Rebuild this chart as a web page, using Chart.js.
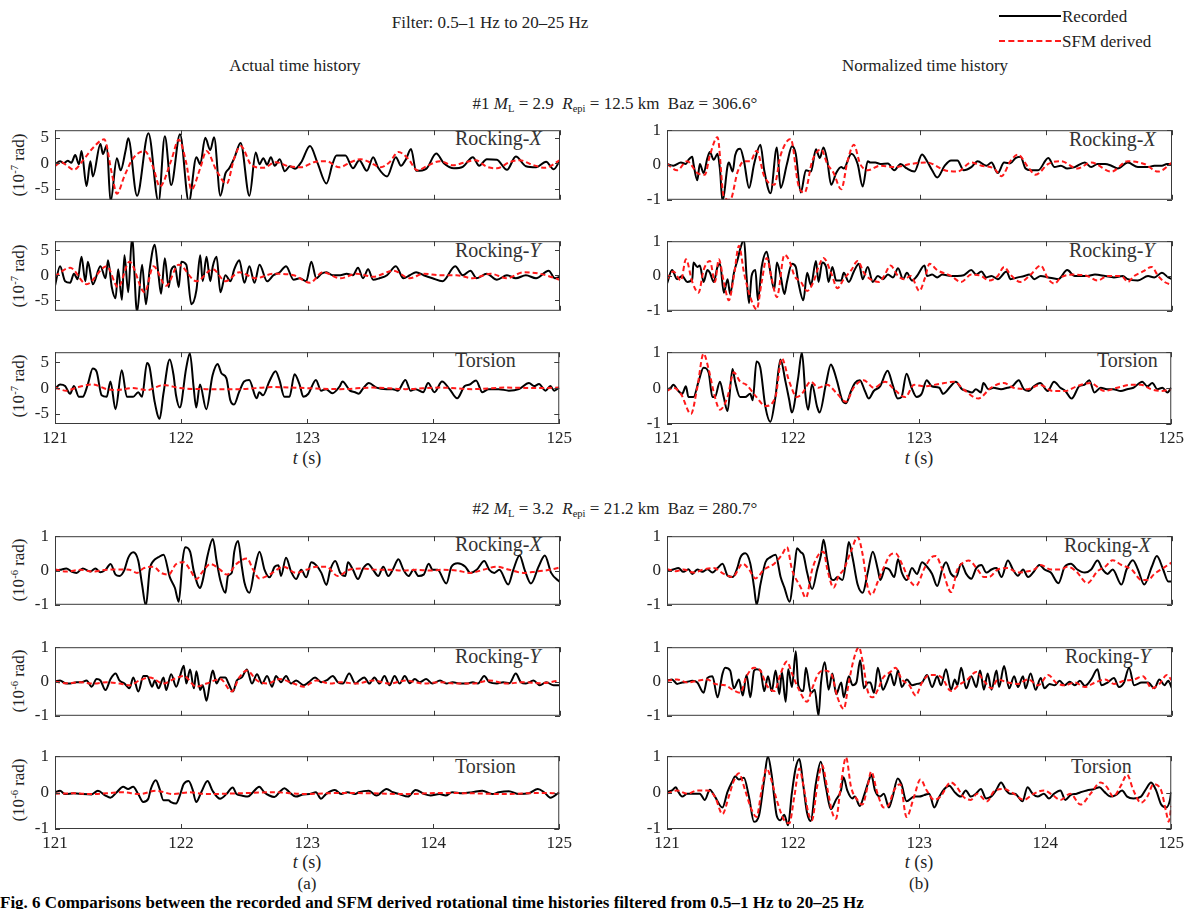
<!DOCTYPE html>
<html>
<head>
<meta charset="utf-8">
<script src="https://cdn.jsdelivr.net/npm/chart.js@4.4.0/dist/chart.umd.min.js"></script>
<style>
  body { margin: 0; width: 1200px; height: 909px; background: #fff; position: relative; overflow: hidden;
         font-family: "Liberation Serif", "Times New Roman", serif; color: #222; }
  canvas { position: absolute; }
  .t { position: absolute; white-space: nowrap; line-height: 1; transform: translate(-50%, -50%); font-size: 17px; }
  .lab { position: absolute; white-space: nowrap; line-height: 1; transform: translateY(-50%); font-size: 20px; color: #333; }
  .yt { position: absolute; white-space: nowrap; line-height: 1; font-size: 17px; transform: translate(-50%, -50%) rotate(-90deg); }
  sup { font-size: 0.62em; vertical-align: 0.55em; }
  sub { font-size: 0.62em; vertical-align: -0.25em; }
  .leg { position: absolute; width: 62px; height: 0; }
</style>
</head>
<body>

<div class="t" style="left:490px; top:22px;">Filter: 0.5–1 Hz to 20–25 Hz</div>
<div class="leg" style="left:999px; top:15px; border-top:2px solid #000;"></div>
<div class="lab" style="left:1062px; top:16px; font-size:17px; color:#222;">Recorded</div>
<div class="leg" style="left:999px; top:40px; border-top:2px dashed #ff1a1a;"></div>
<div class="lab" style="left:1062px; top:41px; font-size:17px; color:#222;">SFM derived</div>

<div class="t" style="left:295px; top:65px;">Actual time history</div>
<div class="t" style="left:925px; top:65px;">Normalized time history</div>
<div class="t" style="left:615px; top:105px;">#1 <i>M</i><sub>L</sub> = 2.9&nbsp; <i>R</i><sub>epi</sub> = 12.5 km&nbsp; Baz = 306.6°</div>
<div class="t" style="left:615px; top:510px;">#2 <i>M</i><sub>L</sub> = 3.2&nbsp; <i>R</i><sub>epi</sub> = 21.2 km&nbsp; Baz = 280.7°</div>

<div class="yt" style="left:18px; top:165px;">(10<sup>-7</sup> rad)</div>
<div class="yt" style="left:18px; top:276px;">(10<sup>-7</sup> rad)</div>
<div class="yt" style="left:18px; top:386px;">(10<sup>-7</sup> rad)</div>
<div class="yt" style="left:18px; top:570px;">(10<sup>-6</sup> rad)</div>
<div class="yt" style="left:18px; top:681px;">(10<sup>-6</sup> rad)</div>
<div class="yt" style="left:18px; top:790px;">(10<sup>-6</sup> rad)</div>

<div class="lab" style="left:455px; top:138px;">Rocking-<i>X</i></div>
<div class="lab" style="left:1069px; top:139px;">Rocking-<i>X</i></div>
<div class="lab" style="left:455px; top:250px;">Rocking-<i>Y</i></div>
<div class="lab" style="left:1069px; top:250px;">Rocking-<i>Y</i></div>
<div class="lab" style="left:455px; top:360px;">Torsion</div>
<div class="lab" style="left:1097px; top:360px;">Torsion</div>
<div class="lab" style="left:455px; top:544px;">Rocking-<i>X</i></div>
<div class="lab" style="left:1064px; top:545px;">Rocking-<i>X</i></div>
<div class="lab" style="left:455px; top:656px;">Rocking-<i>Y</i></div>
<div class="lab" style="left:1065px; top:656px;">Rocking-<i>Y</i></div>
<div class="lab" style="left:455px; top:766px;">Torsion</div>
<div class="lab" style="left:1071px; top:766px;">Torsion</div>

<div class="t" style="left:307px; top:458px; font-size:18px;"><i>t</i> (s)</div>
<div class="t" style="left:919px; top:458px; font-size:18px;"><i>t</i> (s)</div>
<div class="t" style="left:307px; top:862px; font-size:18px;"><i>t</i> (s)</div>
<div class="t" style="left:919px; top:862px; font-size:18px;"><i>t</i> (s)</div>
<div class="t" style="left:307px; top:883px;">(a)</div>
<div class="t" style="left:919px; top:883px;">(b)</div>
<div class="lab" style="left:0px; top:902px; font-size:17px; font-weight:bold; color:#000;">Fig. 6 Comparisons between the recorded and SFM derived rotational time histories filtered from 0.5–1 Hz to 20–25 Hz</div>

<script>
// time axis ticks and y ticks
const timeTicks = [121, 122, 123, 124, 125];
const ticksE1 = [-5, 0, 5];
const ticksUnit = [-1, 0, 1];

// ---- event #1, actual (10^-7 rad) ----
const e1RxRec = [[121.00,-0.3],[121.04,0.4],[121.07,0.0],[121.10,0.5],[121.13,0.1],[121.16,1.6],[121.19,-0.2],[121.21,2.4],[121.25,-4.5],[121.28,0.4],[121.30,-2.6],[121.36,3.8],[121.38,1.8],[121.41,3.5],[121.44,-7.6],[121.49,1.0],[121.52,-1.4],[121.56,2.6],[121.58,4.9],[121.65,-6.4],[121.74,5.9],[121.82,-7.6],[121.87,5.3],[121.92,-4.3],[121.99,5.7],[122.06,-7.6],[122.12,1.2],[122.15,-0.2],[122.19,5.0],[122.23,2.6],[122.26,5.1],[122.31,-6.4],[122.35,-2.0],[122.38,-1.0],[122.42,1.0],[122.47,4.0],[122.54,-6.4],[122.59,2.1],[122.62,-0.2],[122.65,1.0],[122.68,-0.3],[122.71,1.2],[122.74,-0.5],[122.78,0.8],[122.82,-1.6],[122.86,-0.6],[122.90,-1.1],[122.95,0.2],[123.02,3.4],[123.08,0.0],[123.15,-4.0],[123.20,0.0],[123.23,1.5],[123.30,1.5],[123.36,-1.0],[123.41,0.6],[123.47,-1.5],[123.52,1.2],[123.56,-0.9],[123.63,-2.6],[123.70,1.2],[123.74,-0.5],[123.78,0.8],[123.82,2.8],[123.86,-1.5],[123.94,-1.1],[124.02,1.9],[124.08,0.0],[124.16,-1.0],[124.23,-0.7],[124.31,1.2],[124.36,-0.5],[124.42,0.8],[124.50,0.7],[124.58,-1.3],[124.65,1.3],[124.73,-0.6],[124.81,-0.8],[124.89,0.3],[124.95,-1.2],[125.00,0.6]];
const e1RxSfm = [[121.00,-0.6],[121.05,0.2],[121.10,-0.6],[121.15,-1.3],[121.22,0.5],[121.30,3.0],[121.39,4.7],[121.45,-2.0],[121.49,-6.0],[121.55,-2.5],[121.62,1.0],[121.71,2.4],[121.78,-1.0],[121.83,-4.6],[121.92,0.5],[121.98,4.6],[122.04,0.0],[122.08,-5.2],[122.15,-1.0],[122.20,2.4],[122.28,-1.5],[122.36,-4.0],[122.42,1.0],[122.47,3.4],[122.56,-0.5],[122.65,-0.9],[122.75,0.2],[122.85,-0.6],[122.95,-0.8],[123.05,0.2],[123.15,0.4],[123.25,-0.8],[123.35,0.3],[123.42,0.8],[123.50,0.1],[123.58,-0.8],[123.65,0.2],[123.72,2.2],[123.80,0.8],[123.87,-1.4],[123.95,-0.5],[124.05,0.4],[124.15,-0.4],[124.25,0.2],[124.33,0.6],[124.42,-0.7],[124.50,-1.0],[124.60,0.2],[124.68,0.6],[124.78,-0.3],[124.88,-0.9],[125.00,0.6]];
const e1RyRec = [[121.00,-2.1],[121.04,1.8],[121.08,-1.2],[121.12,-1.5],[121.15,0.3],[121.18,-0.8],[121.21,3.7],[121.24,-1.2],[121.26,2.7],[121.30,-1.8],[121.36,1.8],[121.40,-0.6],[121.42,3.0],[121.45,-2.4],[121.48,-4.6],[121.50,1.2],[121.53,-4.9],[121.55,4.0],[121.58,-3.4],[121.61,7.6],[121.65,-7.4],[121.69,2.1],[121.72,-5.8],[121.75,1.2],[121.79,6.1],[121.82,0.0],[121.84,-3.7],[121.87,3.4],[121.90,-2.4],[121.92,1.0],[121.95,1.8],[121.98,-2.4],[122.00,2.7],[122.04,2.1],[122.08,-5.8],[122.12,-3.0],[122.15,4.0],[122.17,-1.2],[122.20,3.7],[122.23,-1.2],[122.25,1.8],[122.28,3.7],[122.31,-3.4],[122.35,0.0],[122.39,-1.2],[122.42,1.2],[122.46,3.0],[122.50,-1.5],[122.54,1.8],[122.58,-1.5],[122.62,2.1],[122.68,-1.2],[122.73,0.0],[122.78,0.6],[122.83,1.8],[122.89,-0.9],[122.94,-0.6],[122.99,-1.2],[123.03,2.7],[123.07,-0.6],[123.11,0.3],[123.15,0.6],[123.20,0.0],[123.26,0.0],[123.31,0.3],[123.36,0.0],[123.40,1.5],[123.44,-0.6],[123.48,1.2],[123.52,-0.9],[123.57,-0.6],[123.63,0.0],[123.70,1.8],[123.76,-0.6],[123.81,0.0],[123.86,0.6],[123.92,0.0],[123.99,-0.6],[124.07,-1.2],[124.17,1.8],[124.23,0.0],[124.29,0.9],[124.34,-0.6],[124.42,0.3],[124.50,-0.9],[124.58,0.0],[124.65,-0.6],[124.73,0.0],[124.81,-0.6],[124.91,0.9],[124.96,-0.6],[125.00,-0.3]];
const e1RySfm = [[121.00,-0.2],[121.12,1.5],[121.25,-1.8],[121.41,1.8],[121.50,-2.4],[121.59,2.7],[121.71,-3.4],[121.78,1.8],[121.88,-2.1],[121.98,2.1],[122.12,-1.2],[122.25,1.2],[122.35,-1.2],[122.46,0.6],[122.59,-0.6],[122.73,0.3],[122.89,0.0],[123.02,-1.5],[123.12,0.6],[123.26,-0.6],[123.39,0.3],[123.52,-0.3],[123.68,0.9],[123.81,-0.6],[123.92,0.3],[124.05,0.0],[124.18,0.0],[124.31,-0.6],[124.45,0.3],[124.58,-0.6],[124.71,0.6],[124.84,0.3],[125.00,-0.9]];
const e1TzRec = [[121.00,-0.2],[121.04,0.7],[121.08,0.4],[121.12,-1.1],[121.15,0.4],[121.19,-1.7],[121.22,-1.7],[121.26,0.7],[121.30,3.8],[121.33,3.2],[121.37,-1.4],[121.41,-1.7],[121.44,1.3],[121.48,-4.1],[121.53,3.5],[121.57,-1.7],[121.62,-1.7],[121.66,-0.8],[121.69,-1.7],[121.73,4.9],[121.75,4.1],[121.79,-2.6],[121.83,-6.0],[121.86,-1.1],[121.91,5.6],[121.94,2.6],[121.96,-1.4],[121.99,-3.8],[122.04,3.8],[122.07,6.8],[122.10,0.1],[122.12,-3.8],[122.15,0.7],[122.20,-4.1],[122.25,2.5],[122.29,4.7],[122.32,2.9],[122.36,1.9],[122.39,-2.3],[122.42,-3.2],[122.46,-0.8],[122.50,1.3],[122.54,1.6],[122.60,-2.0],[122.62,-0.8],[122.65,-1.4],[122.70,1.3],[122.75,3.3],[122.78,1.6],[122.82,-1.7],[122.86,-1.7],[122.90,2.7],[122.94,0.7],[122.97,-1.7],[123.01,-1.1],[123.07,1.6],[123.11,-0.5],[123.15,-0.2],[123.20,-1.0],[123.26,0.4],[123.28,1.3],[123.34,-0.5],[123.38,-0.8],[123.41,-1.1],[123.44,-0.2],[123.49,1.0],[123.55,0.1],[123.63,-0.2],[123.68,-0.2],[123.72,-0.5],[123.78,1.6],[123.82,-0.5],[123.86,-0.2],[123.92,-0.8],[123.96,1.0],[124.01,-0.8],[124.07,1.3],[124.13,-0.2],[124.19,-2.0],[124.25,0.4],[124.29,0.7],[124.34,1.5],[124.39,-0.8],[124.44,-0.2],[124.52,-0.2],[124.60,-0.5],[124.68,-0.2],[124.76,1.0],[124.80,0.4],[124.84,0.8],[124.89,-0.5],[124.93,0.4],[124.96,-0.5],[125.00,0.1]];
const e1TzSfm = [[121.00,0.1],[121.09,-0.5],[121.17,0.1],[121.30,0.7],[121.41,-0.2],[121.48,-0.4],[121.62,0.0],[121.73,-0.4],[121.86,0.6],[121.99,0.0],[122.20,-0.2],[122.46,-0.2],[122.73,0.2],[122.99,0.0],[123.26,-0.2],[123.52,0.1],[123.78,-0.2],[124.05,0.1],[124.31,-0.2],[124.58,0.1],[124.84,0.0],[125.00,0.1]];

// ---- event #1, normalized ----
const e1RxRecN = [[121.00,0.03],[121.05,-0.02],[121.11,0.07],[121.15,0.03],[121.17,0.15],[121.20,0.24],[121.21,0.03],[121.24,-0.44],[121.26,0.03],[121.29,-0.23],[121.32,0.2],[121.34,0.37],[121.37,0.15],[121.40,0.32],[121.42,-0.15],[121.44,-1.05],[121.48,-0.02],[121.49,0.07],[121.52,-0.19],[121.54,0.28],[121.58,0.47],[121.61,0.11],[121.65,-0.66],[121.69,0.03],[121.74,0.58],[121.77,-0.15],[121.82,-0.81],[121.87,0.5],[121.90,-0.66],[121.95,0.03],[121.99,0.54],[122.02,0.32],[122.06,-0.79],[122.10,-0.15],[122.14,-0.19],[122.18,0.45],[122.21,0.2],[122.24,0.5],[122.27,0.11],[122.30,-0.57],[122.34,-0.23],[122.38,-0.06],[122.40,-0.1],[122.46,0.32],[122.51,0.03],[122.55,-0.62],[122.59,0.11],[122.61,0.07],[122.65,0.07],[122.69,0.03],[122.75,0.04],[122.80,-0.15],[122.85,0.03],[122.90,-0.1],[122.96,-0.19],[123.02,0.3],[123.06,0.11],[123.10,-0.15],[123.14,-0.36],[123.20,-0.02],[123.25,0.13],[123.30,0.13],[123.35,-0.15],[123.41,-0.06],[123.46,0.11],[123.53,-0.02],[123.57,0.07],[123.62,-0.23],[123.67,0.07],[123.72,0.05],[123.76,0.2],[123.80,0.24],[123.84,-0.1],[123.88,-0.15],[123.94,-0.15],[124.02,0.2],[124.07,-0.06],[124.12,-0.02],[124.17,-0.1],[124.23,-0.06],[124.31,0.07],[124.36,-0.06],[124.41,0.03],[124.47,0.03],[124.52,-0.02],[124.57,-0.1],[124.65,0.07],[124.73,-0.06],[124.81,-0.06],[124.86,-0.02],[124.92,-0.02],[124.96,0.03],[125.00,0.03]];
const e1RxSfmN = [[121.00,0.03],[121.08,-0.15],[121.16,0.11],[121.24,-0.23],[121.30,-0.28],[121.34,0.28],[121.40,0.8],[121.45,-0.91],[121.50,-1.0],[121.56,-0.19],[121.61,0.11],[121.66,0.11],[121.71,0.41],[121.77,-0.32],[121.85,-0.57],[121.90,0.28],[121.98,0.75],[122.04,-0.57],[122.09,-0.79],[122.15,0.11],[122.22,0.45],[122.27,0.03],[122.32,-0.23],[122.38,-0.7],[122.43,0.11],[122.48,0.58],[122.53,0.03],[122.59,-0.15],[122.69,-0.02],[122.80,-0.06],[122.93,0.03],[123.06,0.07],[123.20,-0.15],[123.30,-0.19],[123.41,0.07],[123.49,-0.02],[123.59,-0.1],[123.65,-0.32],[123.72,0.11],[123.78,0.3],[123.86,-0.06],[123.92,-0.28],[124.02,0.03],[124.12,0.11],[124.25,-0.1],[124.36,0.07],[124.52,-0.19],[124.65,0.11],[124.78,0.03],[124.89,-0.19],[125.00,0.07]];
const e1RyRecN = [[121.00,-0.22],[121.04,0.17],[121.08,-0.09],[121.12,0.0],[121.16,-0.17],[121.20,-0.09],[121.21,0.39],[121.24,0.26],[121.26,0.3],[121.29,-0.17],[121.32,0.17],[121.34,0.09],[121.37,-0.17],[121.40,0.26],[121.42,0.35],[121.45,-0.48],[121.48,-0.09],[121.50,-0.52],[121.53,0.09],[121.56,0.48],[121.58,0.78],[121.61,1.05],[121.63,0.0],[121.65,-0.78],[121.67,0.0],[121.70,0.17],[121.72,-0.7],[121.75,0.26],[121.79,0.7],[121.82,0.09],[121.85,-0.39],[121.87,0.39],[121.90,0.0],[121.93,-0.52],[121.95,-0.17],[121.99,0.35],[122.02,0.26],[122.04,-0.17],[122.08,-0.7],[122.11,0.09],[122.14,-0.26],[122.18,0.43],[122.20,-0.17],[122.23,0.39],[122.26,0.26],[122.28,-0.17],[122.31,0.26],[122.34,-0.13],[122.38,-0.13],[122.40,0.09],[122.44,-0.17],[122.48,0.13],[122.52,0.35],[122.55,-0.09],[122.59,0.26],[122.63,-0.17],[122.67,0.0],[122.71,-0.09],[122.75,0.04],[122.79,-0.04],[122.83,0.22],[122.87,-0.09],[122.90,0.09],[122.94,-0.13],[122.98,0.0],[123.04,0.3],[123.06,0.0],[123.10,0.04],[123.14,-0.04],[123.18,0.04],[123.25,0.0],[123.30,0.0],[123.35,0.02],[123.41,0.17],[123.45,0.04],[123.49,0.13],[123.53,-0.04],[123.57,0.0],[123.62,-0.09],[123.69,0.13],[123.72,-0.09],[123.78,-0.04],[123.83,0.0],[123.87,0.04],[123.91,-0.09],[123.96,0.0],[124.02,-0.04],[124.10,-0.09],[124.17,0.17],[124.23,0.0],[124.28,0.0],[124.33,0.0],[124.39,0.04],[124.47,0.0],[124.54,-0.04],[124.61,0.0],[124.65,-0.09],[124.73,-0.13],[124.81,0.0],[124.86,-0.04],[124.92,0.09],[124.97,-0.04],[125.00,-0.09]];
const e1RySfmN = [[121.00,-0.09],[121.05,0.13],[121.11,-0.13],[121.15,0.48],[121.20,-0.17],[121.25,-0.48],[121.29,0.17],[121.34,0.43],[121.38,-0.17],[121.41,0.48],[121.45,-0.17],[121.49,-0.7],[121.53,0.0],[121.57,0.87],[121.61,0.09],[121.66,-0.61],[121.71,-0.96],[121.75,-0.17],[121.79,0.52],[121.83,-0.09],[121.87,-0.61],[121.93,0.61],[121.97,0.43],[122.01,0.0],[122.06,-0.17],[122.11,-0.43],[122.16,-0.17],[122.20,0.26],[122.24,0.52],[122.30,0.09],[122.35,-0.35],[122.40,-0.09],[122.46,0.17],[122.51,0.43],[122.56,0.09],[122.61,-0.09],[122.68,-0.17],[122.72,0.0],[122.77,0.3],[122.83,0.0],[122.88,-0.09],[122.93,0.0],[123.00,-0.43],[123.04,-0.09],[123.08,0.35],[123.14,0.17],[123.25,0.0],[123.33,-0.17],[123.41,0.04],[123.49,0.0],[123.55,-0.13],[123.62,0.0],[123.67,0.26],[123.72,0.04],[123.80,-0.17],[123.88,0.04],[123.96,0.3],[124.02,-0.09],[124.07,-0.22],[124.12,-0.04],[124.23,0.04],[124.33,0.0],[124.41,-0.13],[124.49,0.0],[124.60,0.0],[124.65,-0.17],[124.70,0.0],[124.77,0.13],[124.84,0.26],[124.89,0.0],[124.94,-0.17],[125.00,-0.26]];
const e1TzRecN = [[121.00,-0.04],[121.03,0.01],[121.05,0.09],[121.09,-0.08],[121.12,-0.16],[121.15,0.05],[121.17,-0.25],[121.21,-0.25],[121.25,0.18],[121.29,0.57],[121.33,0.44],[121.36,-0.25],[121.38,-0.25],[121.42,0.18],[121.45,-0.25],[121.48,-0.64],[121.52,0.53],[121.54,0.18],[121.58,-0.25],[121.62,-0.25],[121.66,-0.16],[121.68,-0.34],[121.71,0.74],[121.74,0.57],[121.78,-0.51],[121.82,-0.94],[121.86,-0.25],[121.90,0.8],[121.94,0.18],[121.97,-0.34],[121.99,-0.68],[122.04,0.27],[122.07,1.0],[122.10,-0.25],[122.12,-0.6],[122.15,0.1],[122.19,-0.51],[122.21,-0.68],[122.26,0.1],[122.30,0.66],[122.32,0.53],[122.35,0.18],[122.39,-0.34],[122.42,-0.42],[122.46,-0.08],[122.49,0.14],[122.53,0.22],[122.57,-0.08],[122.60,-0.29],[122.64,-0.08],[122.69,0.05],[122.75,0.48],[122.79,0.09],[122.83,-0.29],[122.86,-0.25],[122.90,0.4],[122.94,0.01],[122.98,-0.25],[123.02,-0.16],[123.06,0.22],[123.10,0.05],[123.16,0.01],[123.19,-0.16],[123.25,0.05],[123.29,0.18],[123.34,-0.03],[123.38,-0.08],[123.42,-0.12],[123.45,-0.03],[123.49,-0.12],[123.51,0.14],[123.55,-0.03],[123.59,0.01],[123.65,-0.03],[123.70,0.01],[123.74,0.05],[123.79,0.22],[123.83,-0.03],[123.87,-0.08],[123.91,0.05],[123.96,0.14],[124.02,-0.08],[124.07,0.18],[124.12,0.01],[124.16,-0.08],[124.21,-0.29],[124.27,0.05],[124.31,0.09],[124.35,0.22],[124.39,-0.12],[124.44,0.01],[124.49,-0.03],[124.54,-0.03],[124.60,-0.08],[124.65,-0.03],[124.70,0.01],[124.77,0.18],[124.81,0.05],[124.85,0.14],[124.89,-0.03],[124.93,0.01],[124.97,-0.12],[125.00,0.01]];
const e1TzSfmN = [[121.00,-0.08],[121.05,0.01],[121.11,-0.16],[121.19,-0.72],[121.24,0.01],[121.29,0.96],[121.33,0.53],[121.38,-0.25],[121.42,-0.6],[121.48,-0.25],[121.53,0.44],[121.58,0.18],[121.63,0.09],[121.71,-0.25],[121.78,-0.5],[121.86,-0.25],[121.91,0.83],[121.97,0.18],[122.03,-0.25],[122.07,-0.16],[122.14,0.18],[122.20,0.01],[122.27,0.09],[122.35,-0.16],[122.42,-0.38],[122.48,0.01],[122.56,0.22],[122.64,0.01],[122.73,0.18],[122.80,-0.03],[122.89,-0.25],[122.96,0.09],[123.04,0.05],[123.12,0.09],[123.20,0.14],[123.28,0.18],[123.35,-0.03],[123.47,-0.29],[123.57,0.01],[123.67,0.14],[123.75,0.01],[123.86,-0.03],[123.96,0.09],[124.06,-0.08],[124.16,-0.08],[124.25,0.05],[124.36,0.14],[124.47,-0.08],[124.57,0.01],[124.68,0.09],[124.76,0.09],[124.84,-0.03],[124.92,-0.08],[125.00,-0.03]];

// ---- event #2, actual (10^-6 rad) ----
const e2RxRec = [[121.00,0.0],[121.04,0.02],[121.09,0.06],[121.13,-0.03],[121.17,-0.07],[121.22,0.06],[121.28,-0.03],[121.32,0.06],[121.36,-0.05],[121.40,0.02],[121.44,0.19],[121.48,-0.12],[121.51,-0.16],[121.55,0.02],[121.58,0.37],[121.62,0.53],[121.66,0.28],[121.69,-0.42],[121.72,-1.03],[121.75,0.02],[121.78,0.28],[121.82,0.39],[121.86,0.46],[121.91,-0.2],[121.95,-0.51],[121.98,-0.91],[122.01,0.28],[122.03,0.68],[122.07,0.55],[122.10,-0.03],[122.15,-0.51],[122.17,-0.29],[122.21,0.46],[122.25,0.92],[122.28,0.28],[122.31,-0.29],[122.35,-0.65],[122.37,-0.16],[122.40,-0.07],[122.42,0.55],[122.45,0.86],[122.48,0.11],[122.50,-0.34],[122.54,-0.65],[122.58,0.02],[122.62,0.55],[122.66,0.02],[122.70,-0.2],[122.74,0.11],[122.77,0.15],[122.79,-0.16],[122.83,0.37],[122.87,-0.03],[122.91,-0.25],[122.95,0.02],[122.99,-0.2],[123.03,0.24],[123.07,0.15],[123.11,-0.07],[123.15,-0.42],[123.18,0.02],[123.22,0.28],[123.26,-0.07],[123.30,-0.16],[123.32,0.24],[123.36,0.02],[123.40,-0.25],[123.44,0.06],[123.48,0.19],[123.52,0.02],[123.56,-0.16],[123.60,0.11],[123.64,-0.16],[123.68,0.06],[123.72,0.33],[123.76,0.02],[123.80,-0.16],[123.84,0.02],[123.88,-0.16],[123.92,-0.12],[123.96,0.2],[123.99,0.02],[124.03,0.02],[124.10,-0.38],[124.14,0.11],[124.19,0.21],[124.25,0.11],[124.29,-0.07],[124.34,0.02],[124.40,0.28],[124.44,0.02],[124.48,-0.07],[124.52,0.02],[124.59,-0.41],[124.63,0.02],[124.68,0.44],[124.72,0.02],[124.77,-0.38],[124.83,0.11],[124.88,0.44],[124.93,-0.07],[125.00,-0.34]];
const e2RxSfm = [[121.00,0.03],[121.09,-0.03],[121.20,0.02],[121.30,-0.03],[121.41,0.02],[121.50,0.03],[121.59,0.02],[121.65,-0.07],[121.70,0.06],[121.78,0.11],[121.84,-0.07],[121.90,-0.12],[121.96,0.19],[122.02,0.24],[122.07,0.02],[122.12,-0.25],[122.17,-0.03],[122.23,0.19],[122.31,0.02],[122.36,-0.12],[122.44,0.2],[122.52,0.35],[122.57,0.02],[122.62,-0.23],[122.70,-0.12],[122.81,0.11],[122.91,-0.07],[122.99,0.02],[123.07,0.11],[123.15,0.11],[123.24,-0.16],[123.33,0.02],[123.44,0.06],[123.55,0.02],[123.65,0.02],[123.76,0.0],[123.86,0.02],[123.97,0.0],[124.07,0.02],[124.18,0.0],[124.29,-0.07],[124.39,0.02],[124.50,0.11],[124.60,0.02],[124.71,-0.07],[124.81,-0.03],[124.92,0.02],[125.00,0.09]];
const e2RyRec = [[121.00,0.0],[121.04,0.03],[121.08,-0.05],[121.12,-0.06],[121.17,-0.02],[121.21,-0.02],[121.25,0.03],[121.29,-0.15],[121.33,0.07],[121.36,0.03],[121.40,-0.25],[121.44,0.07],[121.48,0.23],[121.51,0.03],[121.55,-0.06],[121.59,-0.2],[121.62,0.12],[121.66,-0.29],[121.70,0.16],[121.73,0.16],[121.77,-0.15],[121.79,0.03],[121.82,-0.2],[121.86,0.12],[121.88,-0.25],[121.92,0.21],[121.96,-0.15],[121.99,0.16],[122.02,0.46],[122.04,-0.06],[122.07,0.35],[122.10,-0.2],[122.12,0.3],[122.15,-0.25],[122.17,-0.11],[122.20,-0.56],[122.23,0.03],[122.25,0.32],[122.28,-0.06],[122.31,0.12],[122.35,0.12],[122.37,-0.02],[122.41,-0.29],[122.44,0.03],[122.48,0.12],[122.52,0.35],[122.56,-0.06],[122.60,0.21],[122.64,-0.06],[122.68,0.16],[122.72,-0.15],[122.75,0.16],[122.79,-0.02],[122.83,0.16],[122.87,-0.06],[122.91,0.03],[122.97,-0.11],[123.01,-0.02],[123.06,0.12],[123.11,-0.02],[123.15,0.03],[123.20,0.16],[123.24,-0.02],[123.28,-0.06],[123.33,0.23],[123.38,-0.06],[123.41,0.03],[123.45,0.12],[123.49,-0.06],[123.53,0.12],[123.57,-0.06],[123.61,0.16],[123.65,-0.11],[123.69,0.16],[123.73,-0.06],[123.77,0.16],[123.81,-0.05],[123.85,0.07],[123.89,-0.02],[123.94,0.07],[123.99,-0.06],[124.05,0.03],[124.10,-0.06],[124.15,-0.02],[124.21,-0.06],[124.26,-0.06],[124.31,-0.02],[124.35,-0.06],[124.40,0.16],[124.44,-0.02],[124.50,-0.06],[124.55,-0.02],[124.60,-0.05],[124.65,0.23],[124.69,-0.02],[124.73,-0.06],[124.79,0.03],[124.84,-0.11],[124.89,-0.02],[124.95,-0.11],[125.00,-0.11]];
const e2RySfm = [[121.00,0.0],[121.09,-0.05],[121.20,-0.02],[121.30,-0.06],[121.41,-0.02],[121.51,-0.06],[121.59,-0.11],[121.67,0.03],[121.75,0.12],[121.86,-0.06],[121.94,0.07],[122.02,0.16],[122.12,-0.15],[122.20,-0.06],[122.31,0.07],[122.40,-0.29],[122.46,0.12],[122.52,0.32],[122.60,0.03],[122.68,-0.06],[122.78,0.07],[122.89,-0.06],[122.97,-0.15],[123.07,0.03],[123.18,-0.06],[123.26,-0.02],[123.39,-0.06],[123.52,0.03],[123.65,-0.06],[123.78,0.03],[123.92,-0.06],[124.05,-0.02],[124.18,-0.06],[124.31,-0.06],[124.44,0.03],[124.58,-0.06],[124.71,-0.02],[124.84,-0.05],[125.00,0.03]];
const e2TzRec = [[121.00,0.01],[121.04,0.05],[121.08,-0.04],[121.15,-0.02],[121.22,-0.04],[121.29,-0.05],[121.34,0.05],[121.40,-0.08],[121.44,-0.14],[121.49,0.01],[121.54,0.16],[121.58,0.10],[121.62,0.16],[121.66,-0.04],[121.70,-0.26],[121.74,-0.17],[121.76,0.10],[121.80,0.34],[121.83,0.10],[121.86,-0.21],[121.90,-0.21],[121.92,-0.26],[121.96,-0.30],[121.99,-0.08],[122.02,0.23],[122.06,0.32],[122.09,0.10],[122.12,-0.26],[122.16,0.01],[122.21,0.32],[122.25,0.05],[122.31,-0.17],[122.36,-0.04],[122.41,0.14],[122.44,-0.04],[122.48,-0.08],[122.53,-0.11],[122.57,0.01],[122.62,0.16],[122.66,0.01],[122.70,-0.08],[122.74,-0.12],[122.78,0.01],[122.82,0.12],[122.86,0.01],[122.91,-0.11],[122.97,-0.05],[123.02,-0.04],[123.07,0.01],[123.11,-0.17],[123.15,-0.04],[123.22,0.07],[123.27,-0.04],[123.32,0.01],[123.38,-0.04],[123.41,0.01],[123.49,0.05],[123.55,-0.08],[123.63,0.10],[123.68,0.01],[123.73,-0.04],[123.80,-0.11],[123.86,0.07],[123.93,-0.04],[123.98,-0.08],[124.05,-0.04],[124.10,-0.08],[124.15,0.01],[124.23,-0.02],[124.31,0.01],[124.39,0.05],[124.47,-0.04],[124.52,0.01],[124.60,0.04],[124.68,-0.04],[124.76,-0.02],[124.83,0.10],[124.88,0.01],[124.93,-0.14],[125.00,0.01]];
const e2TzSfm = [[121.00,-0.03],[121.15,-0.02],[121.28,-0.04],[121.41,-0.02],[121.54,0.01],[121.67,-0.04],[121.80,0.05],[121.94,-0.04],[122.07,0.01],[122.20,-0.04],[122.46,-0.02],[122.73,0.01],[122.99,-0.04],[123.26,-0.01],[123.52,-0.02],[123.78,-0.04],[124.05,-0.01],[124.31,-0.02],[124.58,-0.04],[124.84,-0.01],[125.00,-0.02]];

// ---- event #2, normalized ----
const e2RxRecN = [[121.00,-0.02],[121.05,0.03],[121.09,0.07],[121.13,-0.04],[121.17,0.04],[121.20,-0.10],[121.24,0.03],[121.28,-0.04],[121.32,0.04],[121.36,-0.06],[121.40,0.07],[121.44,0.20],[121.48,-0.15],[121.52,-0.19],[121.56,0.11],[121.58,0.37],[121.62,0.50],[121.66,0.20],[121.69,-0.50],[121.71,-1.0],[121.74,-0.41],[121.78,0.24],[121.82,0.39],[121.86,0.46],[121.90,-0.19],[121.93,-0.50],[121.97,-0.91],[122.01,0.11],[122.03,0.65],[122.06,0.53],[122.08,0.46],[122.11,-0.06],[122.15,-0.54],[122.19,0.03],[122.22,0.46],[122.24,0.90],[122.27,0.29],[122.30,-0.24],[122.32,-0.28],[122.35,-0.19],[122.39,-0.28],[122.42,0.33],[122.44,0.83],[122.47,0.37],[122.51,-0.41],[122.55,-0.65],[122.59,-0.06],[122.63,0.55],[122.67,0.03],[122.69,-0.28],[122.73,0.07],[122.76,0.03],[122.80,-0.19],[122.83,0.33],[122.86,-0.06],[122.90,-0.28],[122.94,0.07],[122.98,-0.10],[123.02,0.24],[123.06,0.11],[123.10,-0.10],[123.14,-0.45],[123.18,0.03],[123.21,0.24],[123.25,-0.10],[123.29,-0.19],[123.33,0.20],[123.37,-0.10],[123.41,-0.24],[123.45,0.07],[123.49,0.16],[123.53,-0.06],[123.57,0.03],[123.61,0.07],[123.65,-0.19],[123.70,0.29],[123.74,0.03],[123.78,-0.15],[123.82,0.03],[123.86,-0.19],[123.90,-0.06],[123.95,0.16],[123.99,0.03],[124.04,-0.06],[124.10,-0.37],[124.15,0.11],[124.20,0.20],[124.25,0.03],[124.31,-0.06],[124.36,0.03],[124.41,0.29],[124.45,0.03],[124.49,-0.10],[124.53,0.03],[124.60,-0.41],[124.64,0.03],[124.69,0.30],[124.73,0.03],[124.78,-0.41],[124.84,0.11],[124.88,0.42],[124.93,0.03],[124.97,-0.32],[125.00,-0.32]];
const e2RxSfmN = [[121.00,0.04],[121.07,-0.02],[121.13,0.03],[121.21,-0.06],[121.29,0.03],[121.37,0.07],[121.45,-0.10],[121.52,-0.19],[121.60,0.20],[121.65,0.03],[121.70,-0.23],[121.77,0.03],[121.85,0.20],[121.91,0.46],[121.95,0.68],[121.99,0.03],[122.06,-0.50],[122.10,-0.80],[122.15,0.03],[122.20,0.46],[122.24,0.55],[122.27,0.03],[122.32,-0.50],[122.36,-0.15],[122.40,0.03],[122.46,0.59],[122.51,0.98],[122.55,0.46],[122.59,-0.50],[122.62,-0.71],[122.67,-0.32],[122.72,0.11],[122.77,0.46],[122.81,0.50],[122.86,0.20],[122.92,-0.28],[122.97,-0.45],[123.04,0.07],[123.09,0.37],[123.13,0.42],[123.18,0.03],[123.25,-0.63],[123.30,0.03],[123.35,0.24],[123.39,0.29],[123.46,0.03],[123.51,-0.19],[123.55,-0.19],[123.62,0.03],[123.70,0.07],[123.78,-0.06],[123.86,-0.02],[123.91,0.03],[123.96,0.16],[124.04,0.03],[124.12,0.03],[124.17,0.11],[124.24,-0.02],[124.33,-0.37],[124.41,-0.02],[124.47,0.11],[124.53,0.30],[124.60,0.16],[124.68,0.03],[124.76,-0.28],[124.81,-0.28],[124.86,-0.10],[124.93,0.07],[125.00,0.24]];
const e2RyRecN = [[121.00,0.02],[121.04,0.06],[121.08,-0.07],[121.12,-0.03],[121.16,-0.01],[121.20,0.02],[121.24,-0.03],[121.29,-0.33],[121.32,0.10],[121.36,0.15],[121.40,-0.46],[121.44,0.23],[121.46,0.40],[121.50,0.32],[121.53,-0.20],[121.57,0.06],[121.60,-0.41],[121.63,0.19],[121.66,-0.46],[121.69,0.32],[121.71,0.36],[121.74,0.32],[121.77,-0.28],[121.80,0.15],[121.83,-0.28],[121.86,0.32],[121.89,-0.37],[121.91,0.28],[121.94,-0.59],[121.96,0.36],[121.99,-0.16],[122.02,0.88],[122.04,-0.11],[122.08,-0.28],[122.10,0.40],[122.14,-0.33],[122.17,-0.24],[122.20,-1.0],[122.22,-0.03],[122.25,0.56],[122.28,-0.24],[122.31,0.23],[122.34,-0.37],[122.38,-0.03],[122.40,-0.46],[122.44,0.15],[122.47,-0.11],[122.50,-0.03],[122.53,0.62],[122.56,-0.20],[122.59,-0.03],[122.61,-0.03],[122.64,-0.33],[122.67,0.40],[122.71,-0.24],[122.74,-0.03],[122.77,0.23],[122.80,-0.11],[122.83,0.32],[122.86,-0.16],[122.90,0.06],[122.94,-0.11],[122.98,-0.07],[123.02,-0.03],[123.06,0.19],[123.10,-0.16],[123.14,0.15],[123.17,-0.11],[123.21,0.36],[123.25,-0.24],[123.28,0.06],[123.30,-0.11],[123.33,0.40],[123.37,-0.20],[123.41,0.15],[123.45,-0.16],[123.48,0.32],[123.51,-0.24],[123.54,0.23],[123.57,-0.24],[123.61,0.32],[123.63,-0.16],[123.67,0.45],[123.71,-0.20],[123.75,0.15],[123.78,-0.16],[123.82,0.15],[123.84,-0.20],[123.88,0.23],[123.92,-0.24],[123.96,0.10],[123.99,-0.20],[124.03,-0.07],[124.07,-0.11],[124.11,0.02],[124.15,-0.11],[124.19,-0.01],[124.23,-0.11],[124.27,0.02],[124.31,-0.13],[124.36,0.06],[124.41,0.36],[124.44,-0.11],[124.49,-0.03],[124.54,0.10],[124.58,-0.16],[124.62,-0.03],[124.66,0.40],[124.70,-0.11],[124.76,-0.03],[124.81,-0.03],[124.86,-0.20],[124.90,0.06],[124.94,-0.11],[124.97,0.02],[125.00,-0.20]];
const e2RySfmN = [[121.00,0.02],[121.08,0.06],[121.16,-0.03],[121.24,0.02],[121.32,0.06],[121.38,-0.07],[121.46,-0.11],[121.52,-0.24],[121.58,-0.33],[121.63,0.15],[121.69,0.40],[121.74,0.32],[121.79,-0.11],[121.85,-0.28],[121.90,0.23],[121.95,0.58],[121.99,0.23],[122.04,-0.20],[122.11,-0.59],[122.15,-0.20],[122.20,0.23],[122.24,0.32],[122.30,0.23],[122.35,-0.46],[122.40,-0.80],[122.44,-0.03],[122.48,0.66],[122.52,1.0],[122.55,0.58],[122.59,-0.28],[122.63,-0.46],[122.67,-0.24],[122.71,0.10],[122.77,0.28],[122.81,0.40],[122.86,0.06],[122.92,-0.11],[122.97,-0.41],[123.02,-0.03],[123.08,0.19],[123.13,0.19],[123.18,0.10],[123.25,-0.28],[123.31,-0.11],[123.38,0.06],[123.45,0.28],[123.51,0.02],[123.57,-0.20],[123.62,0.06],[123.70,-0.03],[123.78,-0.07],[123.86,0.06],[123.94,-0.11],[124.02,0.19],[124.08,-0.03],[124.15,-0.11],[124.23,-0.03],[124.31,-0.16],[124.39,-0.03],[124.47,0.06],[124.54,-0.07],[124.62,0.02],[124.70,0.06],[124.77,0.15],[124.84,-0.20],[124.90,-0.07],[124.96,0.19],[125.00,0.02]];
const e2TzRecN = [[121.00,0.02],[121.04,0.06],[121.07,0.15],[121.09,0.02],[121.12,-0.11],[121.16,-0.03],[121.21,-0.03],[121.26,-0.03],[121.30,-0.20],[121.34,0.08],[121.38,-0.11],[121.44,-0.41],[121.48,0.02],[121.52,0.32],[121.54,0.45],[121.57,0.36],[121.61,0.41],[121.65,-0.11],[121.69,-0.80],[121.73,-0.63],[121.77,0.32],[121.80,1.0],[121.83,0.49],[121.87,-0.63],[121.90,-0.76],[121.93,-0.61],[121.96,-0.90],[121.99,-0.03],[122.02,0.66],[122.05,0.92],[122.08,0.23],[122.11,-0.54],[122.14,-0.78],[122.18,0.23],[122.22,0.85],[122.26,0.15],[122.30,-0.46],[122.34,-0.20],[122.38,0.06],[122.40,0.42],[122.43,0.06],[122.47,-0.16],[122.49,-0.11],[122.53,-0.37],[122.56,-0.11],[122.60,0.32],[122.62,0.49],[122.65,0.06],[122.69,-0.11],[122.72,-0.03],[122.76,-0.41],[122.79,-0.11],[122.83,0.39],[122.86,0.23],[122.90,-0.24],[122.96,-0.11],[123.00,-0.11],[123.04,-0.07],[123.08,-0.03],[123.12,-0.41],[123.16,-0.11],[123.20,0.10],[123.24,0.19],[123.28,0.02],[123.33,-0.11],[123.37,0.06],[123.41,-0.11],[123.45,-0.03],[123.49,0.10],[123.53,-0.16],[123.57,-0.11],[123.61,0.06],[123.65,0.28],[123.69,0.06],[123.72,-0.03],[123.76,-0.03],[123.82,-0.24],[123.86,0.15],[123.90,-0.03],[123.94,-0.11],[123.99,-0.03],[124.03,-0.16],[124.07,-0.03],[124.12,0.06],[124.16,-0.20],[124.20,-0.07],[124.25,-0.03],[124.29,0.02],[124.33,0.06],[124.39,0.10],[124.43,0.15],[124.47,0.02],[124.52,-0.11],[124.56,-0.07],[124.61,0.06],[124.65,-0.11],[124.70,-0.16],[124.76,-0.11],[124.80,0.10],[124.84,0.28],[124.88,0.06],[124.92,-0.33],[124.96,-0.41],[124.99,-0.20],[125.00,0.02]];
const e2TzSfmN = [[121.00,-0.03],[121.08,0.06],[121.16,-0.03],[121.24,0.06],[121.32,0.06],[121.38,-0.11],[121.44,-0.59],[121.49,-0.11],[121.53,0.32],[121.57,0.53],[121.62,0.06],[121.67,-0.46],[121.71,-0.67],[121.75,0.06],[121.79,0.66],[121.83,0.32],[121.87,-0.20],[121.93,-0.76],[121.97,-0.84],[122.01,-0.11],[122.05,0.66],[122.08,0.23],[122.12,-0.54],[122.15,-0.76],[122.19,0.15],[122.23,0.75],[122.27,0.15],[122.31,-0.54],[122.34,-0.72],[122.38,0.23],[122.42,0.97],[122.46,0.15],[122.51,-0.20],[122.55,-0.33],[122.59,0.15],[122.62,0.58],[122.67,-0.03],[122.72,-0.41],[122.76,-0.33],[122.80,0.06],[122.85,0.23],[122.90,-0.67],[122.96,-0.11],[123.01,0.36],[123.06,0.06],[123.12,-0.20],[123.17,-0.11],[123.25,0.28],[123.30,0.15],[123.35,-0.11],[123.41,-0.20],[123.46,-0.03],[123.54,-0.24],[123.59,0.02],[123.67,0.10],[123.75,-0.03],[123.83,-0.20],[123.91,-0.03],[123.99,0.06],[124.06,-0.07],[124.12,-0.20],[124.20,-0.03],[124.28,-0.33],[124.36,-0.03],[124.44,0.28],[124.49,0.15],[124.54,-0.11],[124.60,0.19],[124.65,0.49],[124.70,0.06],[124.76,-0.28],[124.81,-0.11],[124.86,0.23],[124.92,0.06],[124.96,-0.54],[124.98,-0.80],[125.00,-0.37]];

// plot-area layout (pixels)
const COLS = { a: { left: 55, right: 560 }, b: { left: 667, right: 1172 } };
const ROWS = [[126, 204], [237, 315], [348, 424], [532, 609], [643, 720], [752, 829]];
const FONT = '"Liberation Serif", "Times New Roman", serif';

const panels = [
    { col: 'a', row: 0, rec: e1RxRec, sfm: e1RxSfm, min: -7.2, max: 6.5, ticks: ticksE1 },
    { col: 'a', row: 1, rec: e1RyRec, sfm: e1RySfm, min: -7.1, max: 6.8, ticks: ticksE1 },
    { col: 'a', row: 2, rec: e1TzRec, sfm: e1TzSfm, min: -7, max: 7, ticks: ticksE1, showX: true },
    { col: 'b', row: 0, rec: e1RxRecN, sfm: e1RxSfmN, min: -1, max: 1, ticks: ticksUnit },
    { col: 'b', row: 1, rec: e1RyRecN, sfm: e1RySfmN, min: -1, max: 1, ticks: ticksUnit },
    { col: 'b', row: 2, rec: e1TzRecN, sfm: e1TzSfmN, min: -1, max: 1, ticks: ticksUnit, showX: true },
    { col: 'a', row: 3, rec: e2RxRec, sfm: e2RxSfm, min: -1, max: 1, ticks: ticksUnit },
    { col: 'a', row: 4, rec: e2RyRec, sfm: e2RySfm, min: -1, max: 1, ticks: ticksUnit },
    { col: 'a', row: 5, rec: e2TzRec, sfm: e2TzSfm, min: -1, max: 1, ticks: ticksUnit, showX: true },
    { col: 'b', row: 3, rec: e2RxRecN, sfm: e2RxSfmN, min: -1, max: 1, ticks: ticksUnit },
    { col: 'b', row: 4, rec: e2RyRecN, sfm: e2RySfmN, min: -1, max: 1, ticks: ticksUnit },
    { col: 'b', row: 5, rec: e2TzRecN, sfm: e2TzSfmN, min: -1, max: 1, ticks: ticksUnit, showX: true }
];

// Box around the plot area plus inward MATLAB-style tick marks
const frameTicks = {
    id: 'frameTicks',
    afterDatasetsDraw(chart) {
        const { ctx, chartArea: a, scales: { x, y } } = chart;
        ctx.save();
        ctx.strokeStyle = '#3a3a3a';
        ctx.lineWidth = 1;
        ctx.strokeRect(a.left + 0.5, a.top + 0.5, a.right - a.left - 1, a.bottom - a.top - 1);
        ctx.beginPath();
        x.ticks.forEach(t => {
            const px = Math.round(x.getPixelForValue(t.value)) + 0.5;
            ctx.moveTo(px, a.bottom); ctx.lineTo(px, a.bottom - 5);
            ctx.moveTo(px, a.top); ctx.lineTo(px, a.top + 5);
        });
        y.ticks.forEach(t => {
            const py = Math.round(y.getPixelForValue(t.value)) + 0.5;
            ctx.moveTo(a.left, py); ctx.lineTo(a.left + 5, py);
            ctx.moveTo(a.right, py); ctx.lineTo(a.right - 5, py);
        });
        ctx.stroke();
        ctx.restore();
    }
};

const toXY = arr => arr.map(([x, y]) => ({ x, y }));

function makePanel(p) {
    const [top, bottom] = ROWS[p.row];
    const col = COLS[p.col];
    const YW = 50, PT = 12, PR = 16, XH = p.showX ? 30 : 12;

    const canvas = document.createElement('canvas');
    canvas.width = col.right - col.left + YW + PR;
    canvas.height = bottom - top + PT + XH;
    canvas.style.left = (col.left - YW) + 'px';
    canvas.style.top = (top - PT) + 'px';
    document.body.appendChild(canvas);

    new Chart(canvas, {
        type: 'line',
        data: {
            datasets: [
                { data: toXY(p.sfm), borderColor: '#ff1a1a', borderWidth: 2, borderDash: [5, 3],
                  cubicInterpolationMode: 'monotone', order: 0 },
                { data: toXY(p.rec), borderColor: '#000', borderWidth: 2,
                  cubicInterpolationMode: 'monotone', order: 1 }
            ]
        },
        options: {
            responsive: false,
            animation: false,
            events: [],
            layout: { padding: { top: PT, right: PR, left: 0, bottom: 0 } },
            elements: { point: { radius: 0 } },
            plugins: { legend: { display: false }, tooltip: { enabled: false } },
            scales: {
                x: {
                    type: 'linear', min: 121, max: 125,
                    afterBuildTicks: s => { s.ticks = timeTicks.map(v => ({ value: v })); },
                    afterFit: s => { s.height = XH; },
                    grid: { display: false, drawTicks: false },
                    border: { display: false },
                    ticks: { display: !!p.showX, color: '#222', padding: 4, maxRotation: 0,
                             font: { family: FONT, size: 17 } }
                },
                y: {
                    min: p.min, max: p.max,
                    afterBuildTicks: s => { s.ticks = p.ticks.map(v => ({ value: v })); },
                    afterFit: s => { s.width = YW; },
                    grid: { display: false, drawTicks: false },
                    border: { display: false },
                    ticks: { color: '#222', padding: 6, font: { family: FONT, size: 17 } }
                }
            }
        },
        plugins: [frameTicks]
    });
}

panels.forEach(makePanel);
</script>
</body>
</html>
